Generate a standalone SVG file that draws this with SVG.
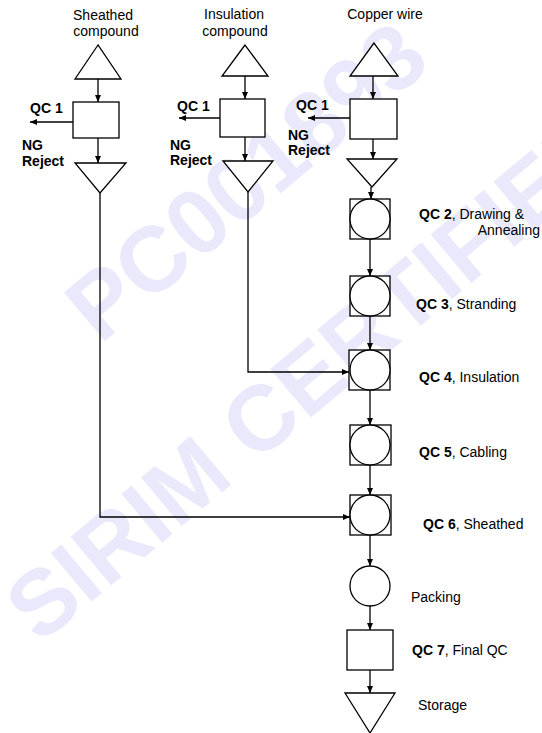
<svg xmlns="http://www.w3.org/2000/svg" width="542" height="733" viewBox="0 0 542 733">
<defs>
<marker id="ah" markerUnits="userSpaceOnUse" markerWidth="7" markerHeight="6" refX="7" refY="3" orient="auto">
<path d="M0,0 L7,3 L0,6 z" fill="#000"/>
</marker>
<style>
.s{fill:#fff;stroke:#000;stroke-width:1.3}
.c{fill:none;stroke:#000;stroke-width:1.3;marker-end:url(#ah)}
.t{font-family:"Liberation Sans",Arial,sans-serif;font-size:14px;fill:#000}
.b{font-weight:bold}
.wm{font-family:"Liberation Sans",Arial,sans-serif;font-weight:bold;font-size:92px;fill:#e9e9fb}
</style>
</defs>
<rect width="542" height="733" fill="#fff"/>
<g id="watermark">
<text class="wm" transform="translate(100,345) rotate(-40)">PC001893</text>
<text class="wm" transform="translate(40,645) rotate(-40)">SIRIM CERTIFIED</text>
</g>
<g id="connectors">
<path class="c" d="M98,79 V102"/>
<path class="c" d="M98,138 V163"/>
<path class="c" d="M73,122 H30"/>
<path class="c" d="M100,193 V517 H350"/>
<path class="c" d="M245,76 V99"/>
<path class="c" d="M245,137 V161"/>
<path class="c" d="M220,118 H179"/>
<path class="c" d="M248,192 V372 H349"/>
<path class="c" d="M373,76 V99"/>
<path class="c" d="M373,139 V159"/>
<path class="c" d="M350,118 H308"/>
<path class="c" d="M371,187 V199"/>
<path class="c" d="M370,239 V276"/>
<path class="c" d="M370,316 V350"/>
<path class="c" d="M370,390 V425"/>
<path class="c" d="M370,465 V495"/>
<path class="c" d="M370,535 V566"/>
<path class="c" d="M370,606 V630"/>
<path class="c" d="M370,670 V693"/>
</g>
<g id="sheathed-compound">
<polygon class="s" points="98,45 75,79 121,79"/>
<text class="t" x="103" y="20" text-anchor="middle">Sheathed</text>
<text class="t" x="106" y="36" text-anchor="middle">compound</text>
</g>
<g id="qc1-sheathed">
<rect class="s" x="73" y="102" width="46" height="36"/>
<text class="t b" x="30" y="113">QC 1</text>
<text class="t b" x="22" y="150">NG</text>
<text class="t b" x="22" y="166">Reject</text>
</g>
<g id="store-sheathed">
<polygon class="s" points="75,163 126,163 100,193"/>
</g>
<g id="insulation-compound">
<polygon class="s" points="245,45 222,76 268,76"/>
<text class="t" x="234" y="19" text-anchor="middle">Insulation</text>
<text class="t" x="235" y="36" text-anchor="middle">compound</text>
</g>
<g id="qc1-insulation">
<rect class="s" x="220" y="99" width="45" height="38"/>
<text class="t b" x="177" y="111">QC 1</text>
<text class="t b" x="170" y="150">NG</text>
<text class="t b" x="170" y="165">Reject</text>
</g>
<g id="store-insulation">
<polygon class="s" points="223,161 273,161 248,192"/>
</g>
<g id="copper-wire">
<polygon class="s" points="374,43 350,76 398,76"/>
<text class="t" x="385" y="19" text-anchor="middle">Copper wire</text>
</g>
<g id="qc1-copper">
<rect class="s" x="350" y="99" width="47" height="40"/>
<text class="t b" x="296" y="110">QC 1</text>
<text class="t b" x="288" y="140">NG</text>
<text class="t b" x="288" y="155">Reject</text>
</g>
<g id="store-copper">
<polygon class="s" points="347,159 397,159 372,187"/>
</g>
<g id="qc2">
<rect class="s" x="350" y="199" width="40" height="40"/>
<circle class="s" cx="370" cy="219" r="20"/>
<text class="t" x="419" y="219"><tspan class="b">QC 2</tspan>, Drawing &amp;</text>
<text class="t" x="540" y="235" text-anchor="end">Annealing</text>
</g>
<g id="qc3">
<rect class="s" x="350" y="276" width="40" height="40"/>
<circle class="s" cx="370" cy="296" r="20"/>
<text class="t" x="416" y="309"><tspan class="b">QC 3</tspan>, Stranding</text>
</g>
<g id="qc4">
<rect class="s" x="349" y="350" width="41" height="40"/>
<circle class="s" cx="370" cy="370" r="20"/>
<text class="t" x="419" y="382"><tspan class="b">QC 4</tspan>, Insulation</text>
</g>
<g id="qc5">
<rect class="s" x="350" y="425" width="41" height="40"/>
<circle class="s" cx="370" cy="445" r="20"/>
<text class="t" x="419" y="457"><tspan class="b">QC 5</tspan>, Cabling</text>
</g>
<g id="qc6">
<rect class="s" x="350" y="495" width="41" height="40"/>
<circle class="s" cx="370" cy="515" r="20"/>
<text class="t" x="423" y="529"><tspan class="b">QC 6</tspan>, Sheathed</text>
</g>
<g id="packing">
<circle class="s" cx="370" cy="586" r="20"/>
<text class="t" x="411" y="602">Packing</text>
</g>
<g id="qc7">
<rect class="s" x="347" y="630" width="46" height="40"/>
<text class="t" x="412" y="655"><tspan class="b">QC 7</tspan>, Final QC</text>
</g>
<g id="storage">
<polygon class="s" points="345,693 395,693 370,733"/>
<text class="t" x="418" y="710">Storage</text>
</g>
</svg>
